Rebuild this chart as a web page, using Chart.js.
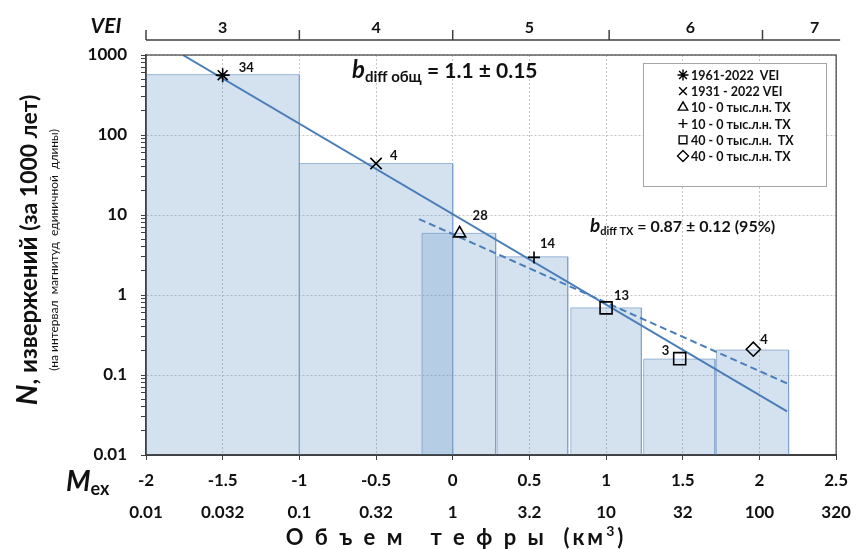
<!DOCTYPE html>
<html>
<head>
<meta charset="utf-8">
<script src="https://cdn.jsdelivr.net/npm/chart.js@4.4.1/dist/chart.umd.min.js"></script>
<style>
  html, body { margin: 0; padding: 0; background: #fff; }
</style>
</head>
<body>
<canvas id="grafico" width="858" height="549"></canvas>
<script>
// гистограмма: границы интервалов Mex и N (за 1000 лет)
const binLeft = [-2, -1, -0.2, 0.29, 0.77, 1.245, 1.72];
const binRight = [-1, 0, 0.28, 0.75, 1.23, 1.71, 2.19];
const binN = [568, 44, 5.9, 3.0, 0.69, 0.158, 0.205];

// маркеры
const markM = [-1.5, -0.5, 0.045, 0.53, 1.0, 1.48, 1.96];
const markN = [560, 44, 5.9, 2.95, 0.69, 0.16, 0.21];
const markCount = ["34", "4", "28", "14", "13", "3", "4"];
const markStyle = ["star", "crossRot", "triangle", "cross", "rect", "rect", "rectRot"];
const markSize = [7, 8, 7, 6, 8.5, 8.5, 7];

// линии регрессии
const fitAllM = [-1.76, 2.18];
const fitAllN = [1000, 0.035];
const fitTxM = [-0.22, 2.19];
const fitTxN = [8.9, 0.077];

// подписи осей
const mexTicks = [-2, -1.5, -1, -0.5, 0, 0.5, 1, 1.5, 2, 2.5];
const volLabels = ["0.01", "0.032", "0.1", "0.32", "1", "3.2", "10", "32", "100", "320"];
const yDecades = [0.01, 0.1, 1, 10, 100, 1000];
const yLabels = ["0.01", "0.1", "1", "10", "100", "1000"];
const veiTickM = [-2, -1, 0, 1.02, 2.02];
const veiLabelM = [-1.5, -0.5, 0.5, 1.55, 2.36];
const veiLabels = ["3", "4", "5", "6", "7"];

const legendText = [
  "1961-2022  VEI",
  "1931 - 2022 VEI",
  "10 - 0 тыс.л.н. ТХ",
  "10 - 0 тыс.л.н. ТХ",
  "40 - 0 тыс.л.н.  ТХ",
  "40 - 0 тыс.л.н. ТХ",
];
const legendStyle = ["star", "crossRot", "triangle", "cross", "rect", "rectRot"];

const FONT = "Lato";
const lineBlue = "#4a7ebb";
const dark = "#404040";

function isDecade(v) {
  return yDecades.some((d) => Math.abs(v / d - 1) < 1e-6);
}

// текст из нескольких кусков разными шрифтами
function runs(ctx, parts, x, y, align, spacing) {
  ctx.letterSpacing = spacing || "0px";
  let total = 0;
  parts.forEach((p) => {
    ctx.font = p.font;
    p.w = ctx.measureText(p.t).width;
    total += p.w;
  });
  let cx = align === "center" ? x - total / 2 : x;
  ctx.textAlign = "left";
  ctx.textBaseline = "alphabetic";
  parts.forEach((p) => {
    ctx.font = p.font;
    ctx.fillText(p.t, cx, y + (p.dy || 0));
    cx += p.w;
  });
  ctx.letterSpacing = "0px";
}

const datasets = [];

datasets.push({
  type: "scatter",
  data: markM.map((m, i) => ({ x: m, y: markN[i] })),
  pointStyle: (c) => markStyle[c.dataIndex],
  pointRadius: (c) => markSize[c.dataIndex],
  pointBorderColor: "#000",
  pointBackgroundColor: "rgba(0,0,0,0)",
  pointBorderWidth: 1.6,
  order: 0,
});

datasets.push({
  type: "line",
  data: fitAllM.map((m, i) => ({ x: m, y: fitAllN[i] })),
  borderColor: lineBlue,
  borderWidth: 2,
  pointRadius: 0,
  fill: false,
  order: 1,
});

datasets.push({
  type: "line",
  data: fitTxM.map((m, i) => ({ x: m, y: fitTxN[i] })),
  borderColor: lineBlue,
  borderWidth: 2,
  borderDash: [7, 4],
  pointRadius: 0,
  fill: false,
  order: 1,
});

for (let i = 0; i < binN.length; i++) {
  datasets.push({
    type: "line",
    data: [
      { x: binLeft[i], y: 0.01 },
      { x: binLeft[i], y: binN[i] },
      { x: binRight[i], y: binN[i] },
      { x: binRight[i], y: 0.01 },
    ],
    fill: "start",
    backgroundColor: "rgba(100,150,200,0.28)",
    borderColor: "rgba(120,155,200,0.7)",
    borderWidth: 1,
    pointRadius: 0,
    tension: 0,
    order: 2,
  });
}

const decor = {
  id: "decor",
  afterDraw(chart) {
    const ctx = chart.ctx;
    const x = chart.scales.x;
    const y = chart.scales.y;
    const a = chart.chartArea;
    ctx.save();

    // рамка
    ctx.strokeStyle = dark;
    ctx.lineWidth = 1.2;
    ctx.strokeRect(a.left, a.top, a.right - a.left, a.bottom - a.top);

    // шкала VEI
    ctx.strokeStyle = dark;
    ctx.lineWidth = 1.5;
    ctx.beginPath();
    ctx.moveTo(a.left, 40);
    ctx.lineTo(a.right + 4, 40);
    veiTickM.forEach((m) => {
      const px = x.getPixelForValue(m);
      ctx.moveTo(px, 40);
      ctx.lineTo(px, 30);
    });
    ctx.stroke();
    ctx.fillStyle = "#111";
    ctx.textAlign = "center";
    ctx.textBaseline = "alphabetic";
    ctx.font = `bold 16px ${FONT}`;
    veiLabels.forEach((t, i) => ctx.fillText(t, x.getPixelForValue(veiLabelM[i]), 33));
    ctx.font = `italic bold 21px ${FONT}`;
    ctx.fillText("VEI", 106, 33);

    // объем тефры
    ctx.font = `bold 17px ${FONT}`;
    volLabels.forEach((t, i) => ctx.fillText(t, x.getPixelForValue(mexTicks[i]), 518));

    runs(ctx, [
      { t: "M", font: `italic bold 28px ${FONT}` },
      { t: "ex", font: `bold 18px ${FONT}`, dy: 4 },
    ], 66, 491, "left");

    ctx.fillStyle = "#111";
    runs(ctx, [
      { t: "О б ъ е м   т е ф р ы  (км", font: `bold 22px ${FONT}` },
      { t: "3", font: `bold 14px ${FONT}`, dy: -9 },
      { t: ")", font: `bold 22px ${FONT}` },
    ], 456, 545, "center", "3px");

    // подпись оси Y
    ctx.save();
    ctx.translate(37, 250);
    ctx.rotate(-Math.PI / 2);
    runs(ctx, [
      { t: "N", font: `italic bold 29px ${FONT}` },
      { t: ", извержений ", font: `bold 24px ${FONT}` },
      { t: "(за 1000 лет)", font: `bold 23px ${FONT}` },
    ], 0, 0, "center");
    ctx.restore();
    ctx.save();
    ctx.translate(58, 250);
    ctx.rotate(-Math.PI / 2);
    runs(ctx, [
      { t: "(на интервал  магнитуд  единичной  длины)", font: `12px ${FONT}` },
    ], 0, 0, "center");
    ctx.restore();

    // значения b
    ctx.fillStyle = "#111";
    runs(ctx, [
      { t: "b", font: `italic bold 24px ${FONT}` },
      { t: "diff общ", font: `bold 15px ${FONT}`, dy: 4 },
      { t: " = 1.1 ± 0.15", font: `bold 21px ${FONT}` },
    ], 352, 78, "left");
    runs(ctx, [
      { t: "b", font: `italic bold 19px ${FONT}` },
      { t: "diff TX", font: `bold 11px ${FONT}`, dy: 3 },
      { t: " = 0.87 ± 0.12 (95%)", font: `bold 16px ${FONT}` },
    ], 590, 232, "left");

    // числа у маркеров
    ctx.font = `bold 13px ${FONT}`;
    ctx.textAlign = "left";
    const off = [[16, -3], [14, -4], [13, -13], [6, -9], [8, -8], [-18, -4], [7, -5]];
    markM.forEach((m, i) => {
      const px = x.getPixelForValue(m);
      const py = y.getPixelForValue(markN[i]);
      ctx.fillText(markCount[i], px + off[i][0], py + off[i][1]);
    });

    // легенда
    ctx.fillStyle = "#fff";
    ctx.fillRect(643, 63, 183, 123);
    ctx.strokeStyle = "#a6a6a6";
    ctx.lineWidth = 1;
    ctx.strokeRect(643.5, 63.5, 183, 123);
    legendText.forEach((t, i) => {
      const cy = 75 + i * 16.2;
      ctx.strokeStyle = "#000";
      ctx.fillStyle = "rgba(0,0,0,0)";
      ctx.lineWidth = 1.4;
      Chart.helpers.drawPoint(ctx, {
        pointStyle: legendStyle[i],
        radius: legendStyle[i] === "cross" ? 4.5 : 5.5,
        rotation: 0,
        borderWidth: 1.4,
      }, 683, cy);
      ctx.fillStyle = "#111";
      ctx.font = `bold 12.5px ${FONT}`;
      ctx.textBaseline = "middle";
      ctx.fillText(t, 691, cy + 1);
    });
    ctx.restore();
  },
};

new Chart(document.getElementById("grafico"), {
  type: "scatter",
  data: { datasets: datasets },
  plugins: [decor],
  options: {
    responsive: false,
    animation: false,
    layout: { padding: { top: 55, right: 15, left: 0, bottom: 0 } },
    plugins: {
      legend: { display: false },
      tooltip: { enabled: false },
    },
    elements: { line: { tension: 0 } },
    scales: {
      x: {
        type: "linear",
        min: -2,
        max: 2.5,
        afterBuildTicks: (s) => { s.ticks = mexTicks.map((v) => ({ value: v })); },
        afterFit: (s) => { s.height = 94; },
        ticks: {
          color: "#111",
          font: { family: FONT, size: 17, weight: "bold" },
          padding: 10,
          autoSkip: false,
          maxRotation: 0,
          callback: (v) => String(v),
        },
        grid: {
          color: "#c4c4c4",
          tickColor: dark,
          tickLength: 5,
        },
        border: { display: true, color: dark, width: 2, dash: [2, 2] },
      },
      y: {
        type: "logarithmic",
        min: 0.01,
        max: 1000,
        afterBuildTicks: (s) => {
          const t = [];
          yDecades.forEach((d, k) => {
            for (let j = 1; j <= (k === yDecades.length - 1 ? 1 : 9); j++) t.push({ value: d * j });
          });
          s.ticks = t;
        },
        afterFit: (s) => { s.width = 146; },
        ticks: {
          color: "#111",
          font: { family: FONT, size: 17, weight: "bold" },
          padding: 14,
          autoSkip: false,
          callback: (v) => {
            const k = yDecades.findIndex((d) => Math.abs(v / d - 1) < 1e-6);
            return k >= 0 ? yLabels[k] : "";
          },
        },
        grid: {
          color: (c) => (c.tick && isDecade(c.tick.value) ? "#c4c4c4" : "rgba(0,0,0,0)"),
          tickColor: dark,
          tickLength: 5,
        },
        border: { display: true, color: dark, width: 1.5, dash: [2, 2] },
      },
    },
  },
});
</script>
</body>
</html>
